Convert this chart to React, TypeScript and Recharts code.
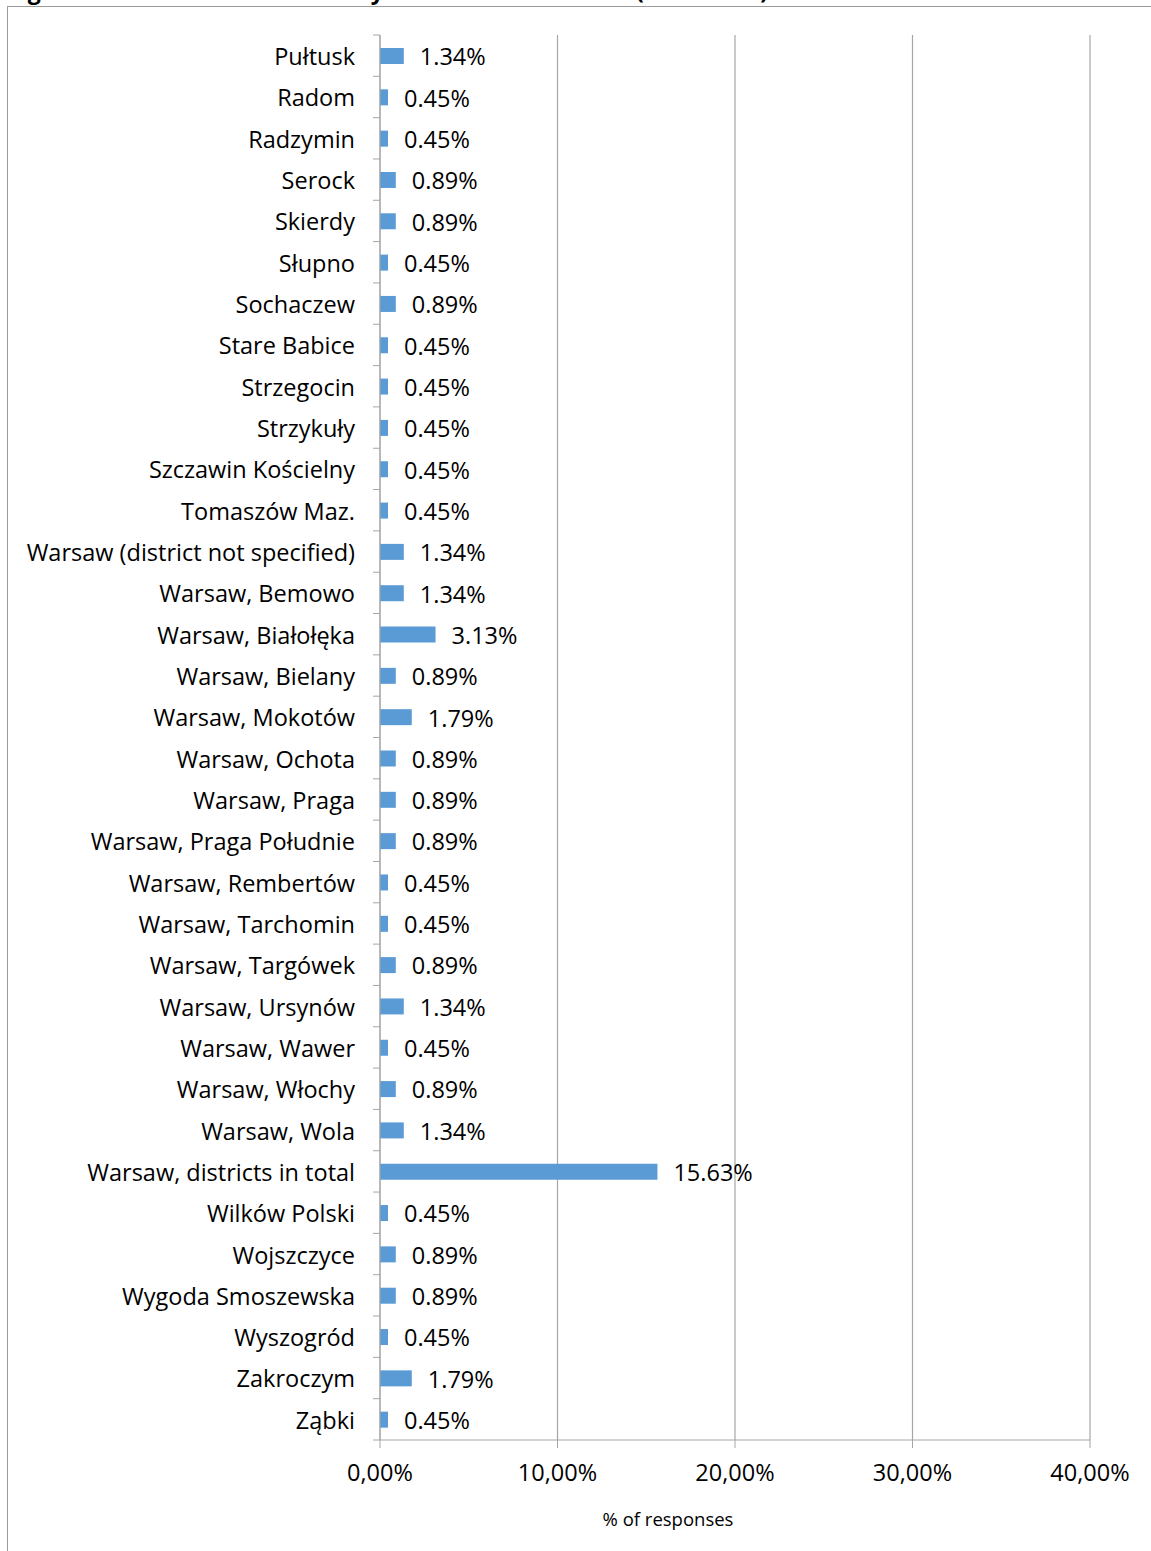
import { Bar, BarChart, CartesianGrid, LabelList, XAxis, YAxis } from "recharts";

const places = [
  "Pułtusk",
  "Radom",
  "Radzymin",
  "Serock",
  "Skierdy",
  "Słupno",
  "Sochaczew",
  "Stare Babice",
  "Strzegocin",
  "Strzykuły",
  "Szczawin Kościelny",
  "Tomaszów Maz.",
  "Warsaw (district not specified)",
  "Warsaw, Bemowo",
  "Warsaw, Białołęka",
  "Warsaw, Bielany",
  "Warsaw, Mokotów",
  "Warsaw, Ochota",
  "Warsaw, Praga",
  "Warsaw, Praga Południe",
  "Warsaw, Rembertów",
  "Warsaw, Tarchomin",
  "Warsaw, Targówek",
  "Warsaw, Ursynów",
  "Warsaw, Wawer",
  "Warsaw, Włochy",
  "Warsaw, Wola",
  "Warsaw, districts in total",
  "Wilków Polski",
  "Wojszczyce",
  "Wygoda Smoszewska",
  "Wyszogród",
  "Zakroczym",
  "Ząbki",
];

const shares = [
  1.34, 0.45, 0.45, 0.89, 0.89, 0.45, 0.89, 0.45, 0.45, 0.45, 0.45, 0.45, 1.34, 1.34, 3.13, 0.89, 1.79,
  0.89, 0.89, 0.89, 0.45, 0.45, 0.89, 1.34, 0.45, 0.89, 1.34, 15.63, 0.45, 0.89, 0.89, 0.45, 1.79, 0.45,
];

const xTicks = [0, 10, 20, 30, 40];

const data = places.map((place, i) => ({ place, value: shares[i] }));

const FONT = "'Open Sans', sans-serif";
const AXIS = "#a6a6a6";
const W = 1151;
const H = 1551;
const M = { top: 35, right: 61, left: 0, bottom: 51 };
const Y_W = 380;
const X_H = 60;
const band = (H - M.top - M.bottom - X_H) / places.length;

function PlaceTick(props: any) {
  const { x, y, payload, index } = props;
  const ax = x + 25;
  return (
    <g>
      <text x={x} y={y + 1} dy="0.36em" textAnchor="end" fill="#000" fontSize={23.5} fontFamily={FONT}>
        {payload.value}
      </text>
      <line x1={ax - 7} x2={ax} y1={y - band / 2} y2={y - band / 2} stroke={AXIS} />
      {index === places.length - 1 && (
        <line x1={ax - 7} x2={ax} y1={y + band / 2} y2={y + band / 2} stroke={AXIS} />
      )}
    </g>
  );
}

export default function App() {
  return (
    <div style={{ position: "absolute", left: 0, top: 0, width: W, height: H, background: "#fff", overflow: "hidden" }}>
      <div
        style={{
          position: "absolute",
          left: 0,
          top: 0,
          width: W,
          height: 6,
          overflow: "hidden",
          fontFamily: FONT,
          fontWeight: 700,
          fontSize: 23,
        }}
      >
        <span style={{ position: "absolute", left: 8, top: -26, whiteSpace: "nowrap" }}>
          Figure 6. Residence of the surveyed
        </span>
        <span style={{ position: "absolute", left: 636, top: -26, whiteSpace: "nowrap" }}>(continued)</span>
      </div>
      <div
        style={{
          position: "absolute",
          left: 7,
          top: 6,
          width: W,
          height: H,
          borderLeft: "1.5px solid #9a9a9a",
          borderTop: "1.5px solid #9a9a9a",
        }}
      />
      <div style={{ position: "absolute", left: 0, top: 0 }}>
        <BarChart width={W} height={H} data={data} layout="vertical" margin={M} barCategoryGap={0}>
          <CartesianGrid horizontal={false} stroke={AXIS} strokeWidth={1.2} />
          <XAxis
            type="number"
            domain={[0, 40]}
            ticks={xTicks}
            height={X_H}
            stroke={AXIS}
            tickSize={8}
            tickMargin={16}
            tickFormatter={(v: number) => `${v.toFixed(2).replace(".", ",")}%`}
            tick={{ fill: "#000", fontSize: 23.5, fontFamily: FONT }}
          />
          <YAxis
            type="category"
            dataKey="place"
            width={Y_W}
            interval={0}
            stroke={AXIS}
            tickLine={false}
            tickSize={7}
            tickMargin={18}
            tick={<PlaceTick />}
          />
          <Bar dataKey="value" fill="#5b9bd5" barSize={16} isAnimationActive={false}>
            <LabelList
              dataKey="value"
              position="right"
              offset={16}
              dy={1}
              formatter={(v: any) => `${Number(v).toFixed(2)}%`}
              fill="#000"
              fontSize={23.5}
              fontFamily={FONT}
            />
          </Bar>
        </BarChart>
      </div>
      <div
        style={{
          position: "absolute",
          left: 668,
          top: 1518,
          transform: "translate(-50%, -50%)",
          fontFamily: FONT,
          fontSize: 18.5,
          whiteSpace: "nowrap",
        }}
      >
        % of responses
      </div>
    </div>
  );
}
